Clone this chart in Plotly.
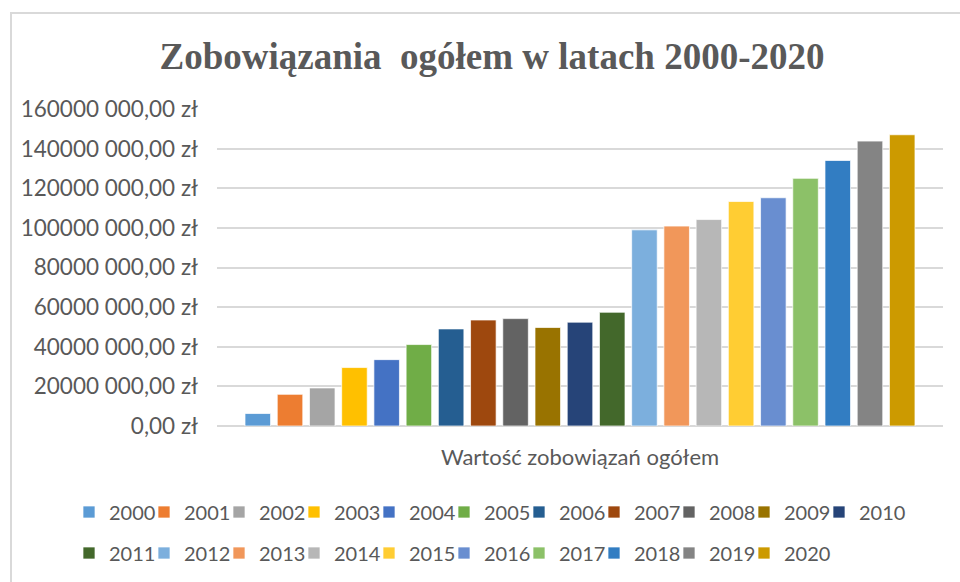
import plotly.graph_objects as go

years = [str(y) for y in range(2000, 2021)]
values = [6.3e6, 16.0e6, 19.2e6, 29.5e6, 33.5e6, 41.1e6, 49.0e6, 53.5e6, 54.2e6, 49.7e6,
          52.4e6, 57.4e6, 99.0e6, 100.9e6, 104.2e6, 113.3e6, 115.2e6, 125.0e6, 134.0e6,
          143.8e6, 147.0e6]
colors = ["#5B9BD5", "#ED7D31", "#A5A5A5", "#FFC000", "#4472C4", "#70AD47", "#255E91",
          "#9E480E", "#636363", "#997300", "#264478", "#43682B", "#7CAFDD", "#F1975A",
          "#B7B7B7", "#FFCD33", "#698ED0", "#8CC168", "#327DC2", "#848484", "#CC9A00"]
category = ["Wartość zobowiązań ogółem"]
tick_vals = [0, 20e6, 40e6, 60e6, 80e6, 100e6, 120e6, 140e6, 160e6]
tick_text = ["0,00 zł", "20000 000,00 zł", "40000 000,00 zł", "60000 000,00 zł",
             "80000 000,00 zł", "100000 000,00 zł", "120000 000,00 zł",
             "140000 000,00 zł", "160000 000,00 zł"]
title_text = "Zobowiązania  ogółem w latach 2000-2020"

W, H = 960, 582
L, R, T, B = 217, 17, 109, 156
TXT = "#595959"
FONT = "Lato"

fig = go.Figure()
for i, (yr, v, c) in enumerate(zip(years, values, colors)):
    fig.add_trace(go.Bar(
        x=category, y=[v], name=yr,
        marker=dict(color=c, line=dict(color="rgba(255,255,255,0.7)", width=1)),
        legend="legend" if i < 11 else "legend2",
    ))

# invisible spacer entries so the last legend label of each row is not clipped
for lg in ("legend", "legend2"):
    fig.add_trace(go.Scatter(
        x=category, y=[None], name=" ", mode="markers",
        marker=dict(color="rgba(0,0,0,0)", size=1), legend=lg,
        hoverinfo="skip", showlegend=True,
    ))

pw = W - L - R
ph = H - T - B
def px2x(p):
    return (p - L) / pw
def py2y(p):
    return (H - B - p) / ph

legend_common = dict(
    orientation="h", xref="paper", yref="paper",
    xanchor="left", yanchor="middle",
    font=dict(family=FONT, size=20, color=TXT),
    entrywidth=30, entrywidthmode="pixels",
    itemwidth=30, bgcolor="rgba(0,0,0,0)", traceorder="normal",
    itemclick=False, itemdoubleclick=False,
)

fig.update_layout(
    width=W, height=H,
    margin=dict(l=L, r=R, t=T, b=B, pad=0, autoexpand=False),
    paper_bgcolor="white", plot_bgcolor="white",
    barmode="group", bargap=0.068, bargroupgap=0.207,
    title=dict(text=title_text, x=492 / W, xanchor="center", y=1 - 56 / H, yanchor="middle",
               xref="container", yref="container",
               font=dict(family="Liberation Serif", size=37, color=TXT, weight="bold")),
    legend=dict(x=px2x(69), y=py2y(512), **legend_common),
    legend2=dict(x=px2x(69), y=py2y(553), **legend_common),
    xaxis=dict(showgrid=False, showline=False, ticks="",
               tickfont=dict(family=FONT, size=22, color=TXT),
               ticklabelstandoff=16),
    yaxis=dict(range=[0, 160e6], tickvals=tick_vals, ticktext=tick_text,
               showgrid=True, gridcolor="#D9D9D9", gridwidth=1.5,
               zeroline=True, zerolinecolor="#D9D9D9", zerolinewidth=1.5,
               showline=False, ticks="",
               tickfont=dict(family=FONT, size=22.5, color=TXT),
               ticklabelstandoff=18),
    shapes=[dict(type="rect", xref="paper", yref="paper",
                 x0=px2x(11), x1=px2x(975), y0=py2y(600), y1=py2y(13),
                 line=dict(color="#D9D9D9", width=2), fillcolor="rgba(0,0,0,0)",
                 layer="below")],
)

fig.write_html("out.html", config={"displayModeBar": False},
               post_script="document.body.style.margin='0';document.body.style.overflow='hidden';")
